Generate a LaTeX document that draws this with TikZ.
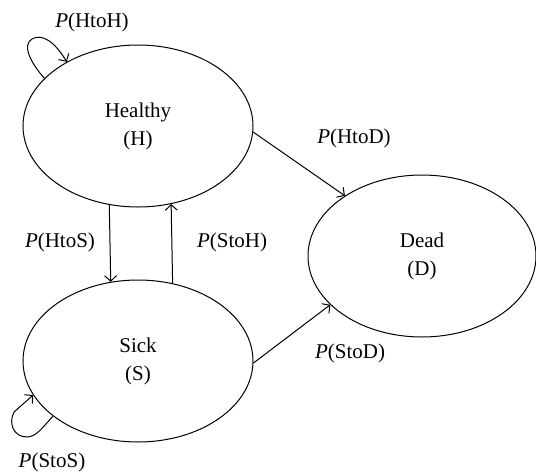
\documentclass[tikz,border=0pt]{standalone}
\usepackage{fontspec}
\setmainfont{Liberation Serif}
\usetikzlibrary{shapes.geometric,arrows.meta}
\tikzset{
  state/.style={ellipse, draw, line width=1pt, inner sep=0pt, minimum width=230pt, minimum height=162pt, align=center, font=\fontsize{21}{28}\selectfont},
  lbl/.style={font=\fontsize{21}{26}\selectfont, inner sep=0pt},
  conn/.style={line width=1pt, -{Straight Barb[length=5.5pt,width=12pt]}}
}
\begin{document}
\begin{tikzpicture}[x=1pt,y=-1pt]
\useasboundingbox (0,0) rectangle (536,472);
\node[state] (H) at (138,126) {Healthy\\(H)};
\node[state] (S) at (138,361) {Sick\\(S)};
\node[state, minimum width=228pt] (D) at (422,256) {Dead\\(D)};

\draw[conn] (H.153) .. controls (30,62) and (22,45) .. (32,39) .. controls (42,33) and (55,42) .. (H.138);
\draw[conn] (S.213.5) .. controls (42,428) and (36,437) .. (27,437) .. controls (14,437) and (8,424) .. (14,412) -- (S.198.8);
\draw[conn] (H.250.4) -- (S.109.6);
\draw[conn] (S.66.3) -- (H.293.7);
\draw[conn] (H.-3.5) -- (D.142.3);
\draw[conn] (S.-1.5) -- (D.208.3);

\node[lbl] (lHH) at (92,22) {\textit{P}(HtoH)};
\node[lbl] (lHS) at (60,242) {\textit{P}(HtoS)};
\node[lbl] (lSH) at (232,242) {\textit{P}(StoH)};
\node[lbl] (lHD) at (354,138) {\textit{P}(HtoD)};
\node[lbl] (lSD) at (350,353) {\textit{P}(StoD)};
\node[lbl] (lSS) at (52,462) {\textit{P}(StoS)};
\end{tikzpicture}
\end{document}
